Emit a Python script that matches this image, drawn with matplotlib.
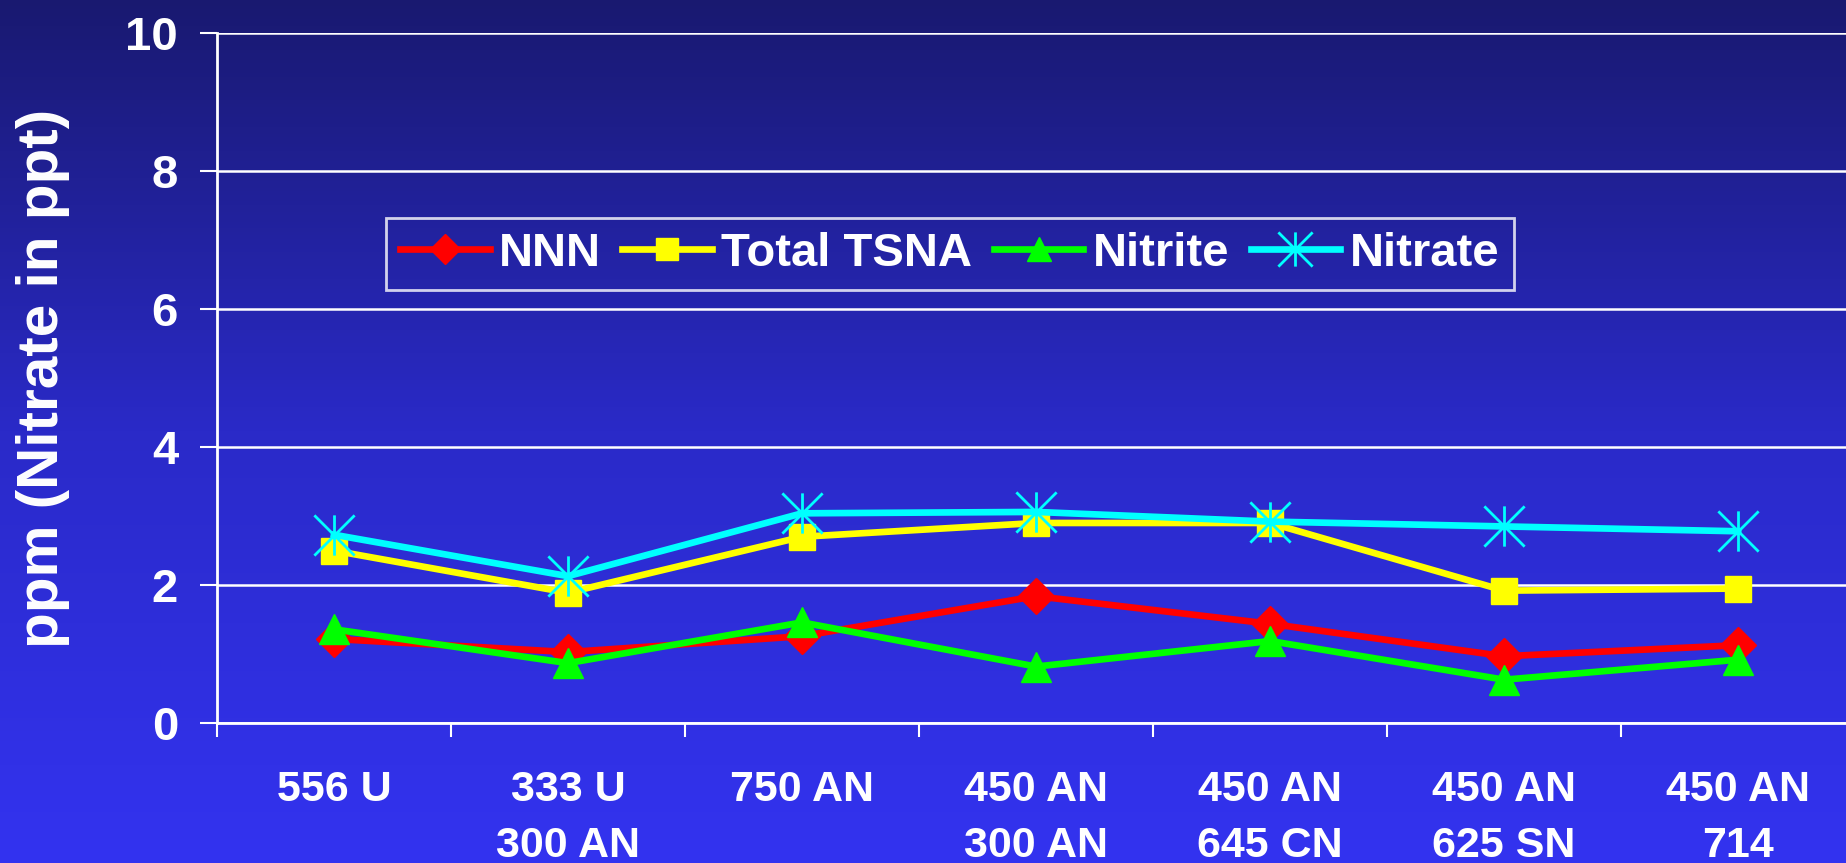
import numpy as np
import matplotlib
matplotlib.use("Agg")
import matplotlib.pyplot as plt
from matplotlib.path import Path
from matplotlib.colors import LinearSegmentedColormap

# -------------------- datos --------------------
categorias = ["556 U", "333 U\n300 AN", "750 AN", "450 AN\n300 AN",
              "450 AN\n645 CN", "450 AN\n625 SN", "450 AN\n714"]
nnn = [1.22, 1.03, 1.26, 1.84, 1.44, 0.97, 1.13]
total_tsna = [2.50, 1.89, 2.70, 2.90, 2.90, 1.92, 1.95]
nitrite = [1.36, 0.87, 1.46, 0.82, 1.19, 0.63, 0.92]
nitrate = [2.73, 2.13, 3.04, 3.06, 2.92, 2.85, 2.78]
y_ticks = [0, 2, 4, 6, 8, 10]

plt.rcParams['font.family'] = ['Liberation Sans', 'DejaVu Sans']
plt.rcParams['font.weight'] = 'bold'

fig = plt.figure(figsize=(18.46, 8.63), dpi=100)

# fondo degradado
bg = fig.add_axes([0, 0, 1, 1], zorder=-10)
cmap = LinearSegmentedColormap.from_list("fondo", ["#191970", "#2a2ac8", "#3333f0"])
bg.imshow(np.linspace(0, 1, 256).reshape(-1, 1), aspect="auto", cmap=cmap,
          extent=[0, 1, 0, 1], origin="upper")
bg.set_axis_off()

ax = fig.add_axes([0.1175, 0.162, 0.8875, 0.800])
ax.patch.set_alpha(0)

# marcador asterisco tipo Excel: vertical + X
asterisco = Path([(0, -1), (0, 1), (-1, -1), (1, 1), (-1, 1), (1, -1)],
                 [Path.MOVETO, Path.LINETO, Path.MOVETO, Path.LINETO, Path.MOVETO, Path.LINETO])

x = np.arange(len(categorias))
ax.plot(x, nnn, color="red", lw=4.8, marker="D", ms=18, mec="red", label="NNN")
ax.plot(x, total_tsna, color="yellow", lw=4.8, marker="s", ms=19, mec="yellow", label="Total TSNA")
ax.plot(x, nitrite, color="#00ff00", lw=4.8, marker="^", ms=21, mec="#00ff00", label="Nitrite")
ax.plot(x, nitrate, color="cyan", lw=4.8, marker=asterisco, ms=29, mec="cyan", mew=2,
        mfc="none", label="Nitrate")

ax.set_xlim(-0.5, len(categorias) - 0.5)
ax.set_ylim(0, 10)
ax.set_yticks(y_ticks)
ax.set_xticks(x)
ax.set_xticklabels(categorias, linespacing=1.5)
ax.set_xticks(np.arange(len(categorias) + 1) - 0.5, minor=True)

ax.grid(axis="y", color="white", lw=1.8)
ax.set_axisbelow(True)
for s in ["top", "right"]:
    ax.spines[s].set_visible(False)
for s in ["left", "bottom"]:
    ax.spines[s].set_color("white")
    ax.spines[s].set_linewidth(2)

ax.tick_params(axis="y", colors="white", labelsize=34, length=12, width=1.5, pad=16)
ax.tick_params(axis="x", which="major", length=0, colors="white", labelsize=31, pad=34)
ax.tick_params(axis="x", which="minor", length=10, width=1.5, colors="white")
for lab in ax.get_xticklabels() + ax.get_yticklabels():
    lab.set_fontweight("bold")

ax.set_ylabel("ppm (Nitrate in ppt)", color="white", fontsize=42, fontweight="bold", labelpad=40)

leg = ax.legend(loc="upper left", bbox_to_anchor=(0.103, 0.732), ncol=4, frameon=True,
                fontsize=34, handlelength=1.9, handletextpad=0.2, columnspacing=0.45,
                borderaxespad=0, borderpad=0.3, fancybox=False, markerscale=0.85)
leg.get_frame().set_facecolor("none")
leg.get_frame().set_edgecolor("white")
leg.get_frame().set_linewidth(2)
for t in leg.get_texts():
    t.set_color("white")
    t.set_fontweight("bold")

fig.savefig("out.png", dpi=100)
